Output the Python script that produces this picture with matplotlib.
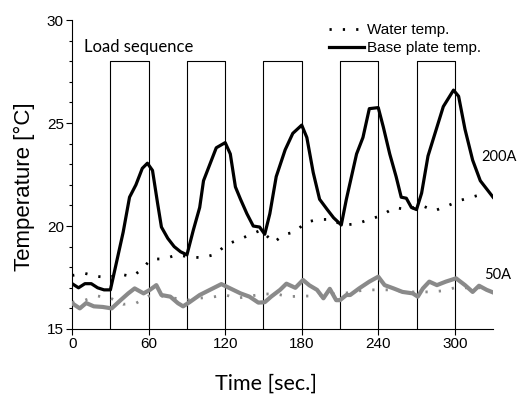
import matplotlib
matplotlib.use("Agg")
import matplotlib.pyplot as plt
from matplotlib.ticker import MultipleLocator

# Base plate temperature, 200A (black)
t_base200 = [0, 5, 10, 15, 20, 25, 30, 35, 40, 45, 50, 55, 59, 63, 67, 70, 75, 80, 85, 90,
             95, 100, 103, 108, 113, 120, 124, 128, 132, 137, 142, 147, 151, 155, 160, 167,
             173, 180, 184, 189, 194, 200, 205, 211, 215, 223, 228, 233, 240, 244, 249, 254,
             258, 262, 266, 270, 274, 279, 286, 291, 299, 303, 308, 314, 320, 325, 330]
T_base200 = [17.2, 17.0, 17.2, 17.2, 17.0, 16.9, 16.9, 18.3, 19.7, 21.4, 22.0, 22.8, 23.05,
             22.7, 21.1, 19.95, 19.4, 19.0, 18.75, 18.6, 19.8, 20.9, 22.2, 23.0, 23.8, 24.05,
             23.5, 21.9, 21.3, 20.6, 20.0, 19.95, 19.6, 20.6, 22.4, 23.7, 24.5, 24.9, 24.3,
             22.6, 21.3, 20.8, 20.4, 20.05, 21.3, 23.5, 24.3, 25.7, 25.75, 24.8, 23.5, 22.4,
             21.4, 21.35, 20.9, 20.8, 21.6, 23.4, 24.8, 25.8, 26.6, 26.3, 24.7, 23.2, 22.2,
             21.8, 21.4]

# Water temperature, 200A (black dots)
t_water200 = [0, 10, 20, 29, 37, 47, 54, 62, 72, 82, 92, 102, 112, 121, 129, 139, 148, 158,
              166, 175, 183, 193, 203, 212, 223, 232, 242, 253, 262, 274, 284, 295, 305, 316, 325]
T_water200 = [17.6, 17.7, 17.55, 17.5, 17.67, 17.55, 17.86, 18.4, 18.4, 18.6, 18.5, 18.46,
              18.62, 19.1, 19.3, 19.56, 19.8, 19.2, 19.58, 19.72, 20.18, 20.32, 20.32, 20.05,
              20.1, 20.3, 20.5, 20.9, 20.8, 21.0, 20.74, 21.0, 21.26, 21.45, 21.6]

# Base plate temperature, 50A (grey)
t_base50 = [0, 6, 11, 17, 24, 31, 38, 44, 49, 56, 61, 66, 70, 77, 83, 87, 92, 100, 108, 117,
            124, 132, 139, 146, 151, 156, 163, 168, 175, 181, 186, 192, 197, 202, 207, 210,
            215, 218, 225, 233, 240, 245, 252, 259, 267, 271, 275, 280, 286, 293, 301, 308,
            314, 319, 325, 329]
T_base50 = [16.25, 16.0, 16.26, 16.1, 16.07, 16.0, 16.4, 16.73, 16.97, 16.73, 16.9, 17.13,
            16.65, 16.57, 16.25, 16.1, 16.3, 16.65, 16.9, 17.18, 16.97, 16.73, 16.57, 16.28,
            16.3, 16.57, 16.9, 17.2, 17.0, 17.38, 17.12, 16.9, 16.49, 16.95, 16.4, 16.4, 16.65,
            16.65, 16.97, 17.3, 17.54, 17.13, 16.97, 16.8, 16.73, 16.57, 16.97, 17.3, 17.13,
            17.3, 17.46, 17.13, 16.8, 17.1, 16.9, 16.8]

# Water temperature, 50A (grey dots)
t_water50 = [0, 10, 20, 30, 40, 50, 60, 70, 80, 90, 100, 110, 120, 130, 140, 150, 160, 170,
             180, 190, 200, 210, 220, 230, 240, 250, 260, 270, 280, 290, 300, 310, 320]
T_water50 = [16.3, 16.4, 16.6, 16.5, 16.2, 16.25, 16.6, 16.6, 16.5, 16.4, 16.5, 16.55, 16.65,
             16.5, 16.6, 16.7, 16.7, 16.57, 16.6, 16.6, 16.7, 16.7, 16.8, 16.9, 16.9, 16.9,
             16.8, 16.8, 16.8, 16.85, 17.0, 17.0, 17.0]

# Load sequence boxes
load_on = [30, 90, 150, 210, 270]
load_off = [60, 120, 180, 240, 300]
load_top = 28

fig = plt.figure(figsize=(5.19, 3.94), dpi=100)
ax = fig.add_axes([0.139, 0.165, 0.811, 0.784])

for a, b in zip(load_on, load_off):
    ax.plot([a, a, b, b], [15, load_top, load_top, 15], color="black", lw=0.8, zorder=1)

ax.plot(t_water50, T_water50, color="#8a8a8a", lw=2.0, linestyle=(0, (0.8, 4.0)), zorder=2)
ax.plot(t_base50, T_base50, color="#8a8a8a", lw=3.0, zorder=3)
ax.plot(t_water200, T_water200, color="black", lw=2.0, linestyle=(0, (0.8, 4.0)),
        label="Water temp.", zorder=2)
ax.plot(t_base200, T_base200, color="black", lw=2.3, label="Base plate temp.", zorder=4)

ax.set_xlim(0, 330)
ax.set_ylim(15, 30)
ax.set_xticks([0, 60, 120, 180, 240, 300])
ax.set_yticks([15, 20, 25, 30])
ax.yaxis.set_minor_locator(MultipleLocator(1))
ax.tick_params(axis="both", which="major", direction="out", length=4, width=0.8,
               labelsize=11, pad=2)
ax.tick_params(axis="y", which="minor", direction="out", length=2.5, width=0.8)
for lab in ax.get_xticklabels() + ax.get_yticklabels():
    lab.set_family("Liberation Sans")
ax.spines["top"].set_visible(False)
ax.spines["right"].set_visible(False)

ax.set_xlabel("Time [sec.]", family="Lato", fontsize=15.5)
ax.set_ylabel("Temperature [°C]", family="Liberation Sans", fontsize=16)
ax.xaxis.set_label_coords(0.46, -0.146)
ax.yaxis.set_label_coords(-0.088, 0.46)

ax.text(9, 28.3, "Load sequence", family="Lato", fontsize=12, va="bottom")
ax.text(321, 23.35, "200A", family="Lato", fontsize=10.5, va="center", clip_on=False)
ax.text(323, 17.62, "50A", family="Lato", fontsize=10.5, va="center", clip_on=False)

leg = ax.legend(loc="upper right", bbox_to_anchor=(0.99, 1.015), frameon=False,
                prop={"family": "Liberation Sans", "size": 11}, handlelength=2.3,
                handletextpad=0.2, labelspacing=0.25, borderpad=0)

fig.savefig("out.png", dpi=100)
